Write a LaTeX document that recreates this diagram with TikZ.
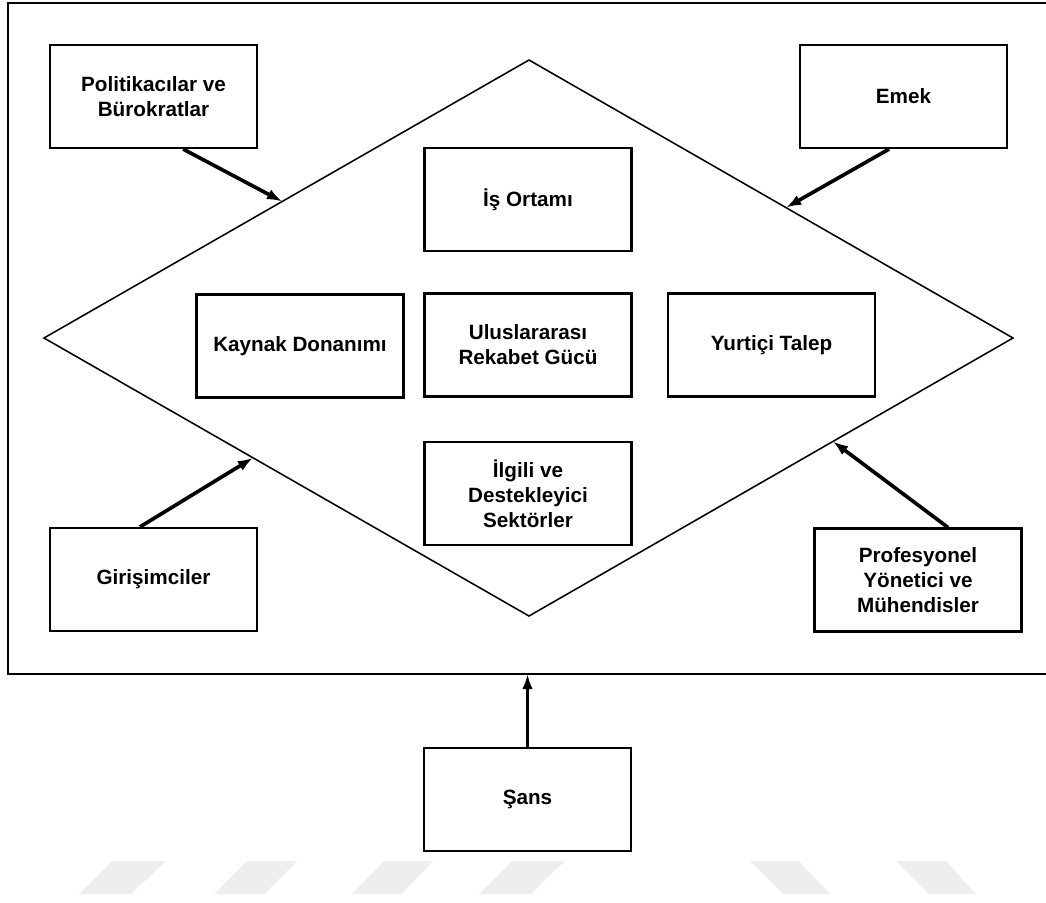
\documentclass[tikz,border=0pt]{standalone}
\usepackage{fontspec}
\setmainfont{Liberation Sans}
\usetikzlibrary{arrows.meta}
\definecolor{wmgray}{RGB}{238,238,238}
\begin{document}
\begin{tikzpicture}[x=0.025cm,y=-0.025cm,
  kutu/.style={draw,line width=1.5pt,minimum width=5.175cm,minimum height=2.575cm,
    align=center,font=\bfseries\fontsize{14.7}{17.8}\selectfont},
  ok/.style={line width=2.6pt,-{Latex[length=0.38cm,width=0.27cm]}}]
\clip (0,0) rectangle (1046,902);

% watermark
\fill[wmgray] (79,894) -- (112,861) -- (166,861) -- (131,894) -- cycle
              (214,894) -- (247,861) -- (297,861) -- (264,894) -- cycle
              (352,894) -- (384,861) -- (433,861) -- (402,894) -- cycle
              (479,894) -- (512,861) -- (565,861) -- (531,894) -- cycle
              (783,894) -- (750,861) -- (799,861) -- (830,894) -- cycle
              (929,894) -- (896,861) -- (946,861) -- (976,894) -- cycle;

% frame
\draw[line width=1.5pt] (8,3) rectangle (1060,674);
\coordinate (alt) at (527.5,674);

% diamond
\coordinate (L) at (44,338);
\coordinate (T) at (529,60);
\coordinate (R) at (1013,338);
\coordinate (B) at (529,616);
\draw[line width=1.1pt] (L) -- (T) -- (R) -- (B) -- cycle;
\path (L) -- (T) coordinate[pos=0.491] (solust)
      (T) -- (R) coordinate[pos=0.531] (sagust)
      (L) -- (B) coordinate[pos=0.431] (solalt)
      (R) -- (B) coordinate[pos=0.372] (sagalt);

% inside
\node[kutu] (is)     at (528,199.5) {İş Ortamı};
\node[kutu] (kaynak) at (300,346)   {Kaynak Donanımı};
\node[kutu] (ulus)   at (528,345)   {Uluslararası\\Rekabet Gücü};
\node[kutu] (yurt)   at (771.5,345) {Yurtiçi Talep};
\node[kutu] (ilgili) at (528,493.5) {İlgili ve\\Destekleyici\\Sektörler};

% outside
\node[kutu] (pol)   at (153.5,96.5) {Politikacılar ve\\Bürokratlar};
\node[kutu] (emek)  at (903.5,96.5) {Emek};
\node[kutu] (giris) at (153.5,579.5) {Girişimciler};
\node[kutu] (prof)  at (918,580)    {Profesyonel\\Yönetici ve\\Mühendisler};
\node[kutu] (sans)  at (527.5,799.5) {Şans};

\draw[ok] ([xshift=0.74cm]pol.south) -- (solust);
\draw[ok] ([xshift=-0.36cm]emek.south) -- (sagust);
\draw[ok] ([xshift=-0.34cm]giris.north) -- (solalt);
\draw[ok] ([xshift=0.75cm]prof.north) -- (sagalt);
\draw[ok] (sans.north) -- (alt);
\end{tikzpicture}
\end{document}
